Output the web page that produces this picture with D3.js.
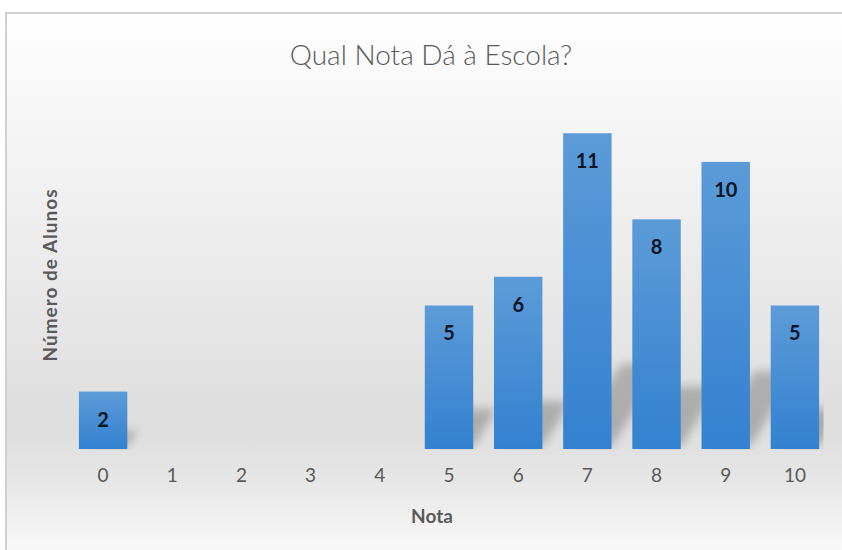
<!DOCTYPE html>
<html>
<head>
<meta charset="utf-8">
<script src="https://cdn.jsdelivr.net/npm/d3@7"></script>
<style>
  html, body { margin: 0; padding: 0; background: #ffffff; }
  svg { display: block; }
</style>
</head>
<body>
<svg id="chart" width="842" height="550"></svg>
<script>
const categories = ["0", "1", "2", "3", "4", "5", "6", "7", "8", "9", "10"];
const values = [2, 0, 0, 0, 0, 5, 6, 11, 8, 10, 5];
const titleText = "Qual Nota Dá à Escola?";
const xTitle = "Nota";
const yTitle = "Número de Alunos";
const yMax = 12;

const svg = d3.select("#chart");
const W = 842, H = 550;
const plot = { left: 68.5, right: 829.5, top: 104.5, bottom: 449 };

const defs = svg.append("defs");
const bg = defs.append("linearGradient").attr("id", "bgGrad")
  .attr("x1", 0).attr("y1", 0).attr("x2", 0).attr("y2", 1);
[[0, "#ffffff"], [0.12, "#f9f9f9"], [0.45, "#ebebeb"], [0.75, "#dddddd"], [0.85, "#e6e6e6"], [1, "#fcfcfc"]]
  .forEach(([o, c]) => bg.append("stop").attr("offset", o).attr("stop-color", c));

const barGrad = defs.append("linearGradient").attr("id", "barGrad")
  .attr("x1", 0).attr("y1", 0).attr("x2", 0).attr("y2", 1);
barGrad.append("stop").attr("offset", 0).attr("stop-color", "#5c9bd8");
barGrad.append("stop").attr("offset", 1).attr("stop-color", "#3381d0");

const blur = defs.append("filter").attr("id", "shBlur")
  .attr("x", "-50%").attr("y", "-50%").attr("width", "200%").attr("height", "200%");
blur.append("feGaussianBlur").attr("stdDeviation", 5);

defs.append("clipPath").attr("id", "plotClip").append("rect")
  .attr("x", plot.left - 10).attr("y", 0).attr("width", plot.right - plot.left + 4).attr("height", plot.bottom + 1);

// background + border
svg.append("rect").attr("x", 6).attr("y", 13).attr("width", W).attr("height", H)
  .attr("fill", "url(#bgGrad)").attr("stroke", "#d0d0d0").attr("stroke-width", 2);

const x = d3.scaleBand().domain(categories).range([plot.left, plot.right])
  .paddingInner(0.3).paddingOuter(0.15);
const y = d3.scaleLinear().domain([0, yMax]).range([plot.bottom, plot.top]);

const data = categories.map((c, i) => ({ c, v: values[i] }));

// perspective shadows
svg.append("g").attr("clip-path", "url(#plotClip)").selectAll("path")
  .data(data.filter(d => d.v > 0)).join("path")
  .attr("d", d => {
    const x0 = x(d.c), x1 = x0 + x.bandwidth();
    const h = y(0) - y(d.v);
    const sh = h * 0.26, dx = sh * 0.6;
    const b = y(0) - 3;
    return `M${x0 + 8},${b} L${x1 + 1},${b} L${x1 + dx + 1},${b - sh} L${x0 + dx + 8},${b - sh} Z`;
  })
  .attr("fill", "#000").attr("opacity", 0.22).attr("filter", "url(#shBlur)");

// bars
svg.append("g").selectAll("rect").data(data.filter(d => d.v > 0)).join("rect")
  .attr("x", d => x(d.c)).attr("y", d => y(d.v))
  .attr("width", x.bandwidth()).attr("height", d => y(0) - y(d.v))
  .attr("fill", "url(#barGrad)");

// data labels
svg.append("g").selectAll("text").data(data.filter(d => d.v > 0)).join("text")
  .attr("x", d => x(d.c) + x.bandwidth() / 2).attr("y", d => y(d.v) + 35)
  .attr("text-anchor", "middle")
  .attr("font-family", "Lato, 'Open Sans', sans-serif").attr("font-weight", 700)
  .attr("font-size", 20).attr("fill", "#0b1526")
  .text(d => d.v);

// x axis
const xAxis = svg.append("g").attr("transform", `translate(0,${plot.bottom})`)
  .call(d3.axisBottom(x).tickSize(0).tickPadding(20));
xAxis.select(".domain").remove();
xAxis.selectAll("text").attr("font-family", "Lato, 'Open Sans', sans-serif")
  .attr("font-size", 19).attr("fill", "#595959");

// titles
svg.append("text").attr("x", 431).attr("y", 65).attr("text-anchor", "middle")
  .attr("font-family", "Lato, 'Open Sans', sans-serif").attr("font-weight", 300)
  .attr("font-size", 28).attr("fill", "#595959").text(titleText);

svg.append("text").attr("x", 432).attr("y", 523).attr("text-anchor", "middle")
  .attr("font-family", "Lato, 'Open Sans', sans-serif").attr("font-weight", 700)
  .attr("font-size", 19).attr("fill", "#595959").text(xTitle);

svg.append("text").attr("transform", "translate(57,275) rotate(-90)").attr("text-anchor", "middle")
  .attr("font-family", "Lato, 'Open Sans', sans-serif").attr("font-weight", 700)
  .attr("font-size", 19).attr("letter-spacing", 1).attr("fill", "#595959").text(yTitle);
</script>
</body>
</html>
